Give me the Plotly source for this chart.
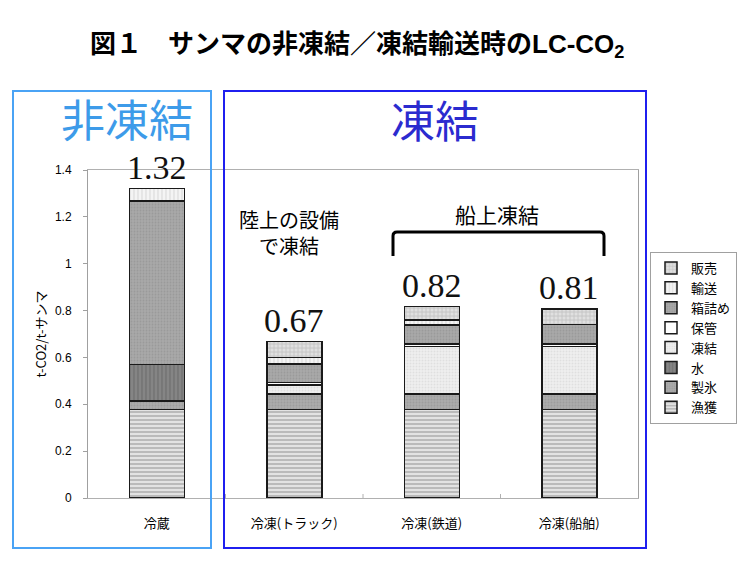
import plotly.graph_objects as go

# ---- data ----
categories = ["冷蔵", "冷凍(トラック)", "冷凍(鉄道)", "冷凍(船舶)"]
series_names = ["漁獲", "製氷", "水", "凍結", "保管", "箱詰め", "輸送", "販売"]
gyokaku   = [0.378, 0.378, 0.378, 0.378]
seihyo    = [0.035, 0.065, 0.065, 0.065]
mizu      = [0.157, 0.0, 0.0, 0.0]
toketsu   = [0.0, 0.039, 0.203, 0.203]
hokan     = [0.0, 0.012, 0.011, 0.011]
hakozume  = [0.698, 0.079, 0.081, 0.084]
yuso      = [0.053, 0.027, 0.021, 0.0]
hanbai    = [0.0, 0.068, 0.059, 0.066]
series_values = [gyokaku, seihyo, mizu, toketsu, hokan, hakozume, yuso, hanbai]
y_ticks = [0, 0.2, 0.4, 0.6, 0.8, 1, 1.2, 1.4]

# ---- styles ----
styles = {
    "漁獲":  dict(bg="#e2e2e2", fg="#8a8a8a", shape="-", size=4, solidity=0.45),
    "製氷":  dict(bg="#ababab", fg="#8f8f8f", shape=".", size=3, solidity=0.3),
    "水":    dict(bg="#858585", fg="#5e5e5e", shape="|", size=4, solidity=0.35),
    "凍結":  dict(bg="#eeeeee", fg="#d0d0d0", shape=".", size=3, solidity=0.3),
    "保管":  dict(bg="#ffffff", fg="#ffffff", shape="", size=4, solidity=0.3),
    "箱詰め": dict(bg="#a8a8a8", fg="#8c8c8c", shape=".", size=3, solidity=0.3),
    "輸送":  dict(bg="#f4f4f4", fg="#c4c4c4", shape="|", size=4, solidity=0.3),
    "販売":  dict(bg="#e0e0e0", fg="#a0a0a0", shape="+", size=4, solidity=0.35),
}

L, R, T, B = 88, 112, 170, 70
W, H = 750, 568
PW, PH = W - L - R, H - T - B

def px(x):
    return (x - L) / PW

def py(y):
    return (H - B - y) / PH

fig = go.Figure()
for name, vals in zip(series_names, series_values):
    s = styles[name]
    fig.add_trace(go.Bar(
        name=name, x=categories, y=vals, width=0.4,
        marker=dict(
            color=s["bg"],
            line=dict(color="#1a1a1a", width=1.5),
            pattern=dict(shape=s["shape"], bgcolor=s["bg"], fgcolor=s["fg"],
                         size=s["size"], solidity=s["solidity"]),
        ),
    ))

totals = [sum(v[i] for v in series_values) for i in range(len(categories))]

annotations = []
for c, t in zip(categories, totals):
    annotations.append(dict(
        x=c, y=t, xref="x", yref="y", text=f"{t:.2f}", showarrow=False,
        xanchor="center", yanchor="middle", yshift=21,
        font=dict(family="Liberation Serif", size=34, color="#111111"),
    ))

cjk = "Noto Sans CJK JP"

def label(x, y, text, size, color="#000000", family=cjk):
    return dict(x=px(x), y=py(y), xref="paper", yref="paper", showarrow=False,
                xanchor="center", yanchor="middle", text=text,
                font=dict(family=family, size=size, color=color))

annotations += [
    label(357, 45, "<b>図１　サンマの非凍結／凍結輸送時のLC-CO<sub>2</sub></b>", 26,
          family="Liberation Sans, Noto Sans CJK JP"),
    label(127, 118, "非凍結", 44, "#3d9be9"),
    label(435, 119, "凍結", 44, "#2b2bcf"),
    label(289, 232, "陸上の設備<br>で凍結", 20),
    label(497, 214, "船上凍結", 21),
]

shapes = [
    dict(type="rect", xref="paper", yref="paper", x0=px(13), x1=px(211),
         y0=py(548), y1=py(91), line=dict(color="#4aa3f5", width=2)),
    dict(type="rect", xref="paper", yref="paper", x0=px(224), x1=px(646),
         y0=py(548), y1=py(91), line=dict(color="#1f1fef", width=2)),
]
# bracket
x1, x2, yt, yb, r = px(393), px(604), py(232), py(256), 4
rx, ry = r / PW, r / PH
path = (f"M {x1},{yb} L {x1},{yt - ry} Q {x1},{yt} {x1 + rx},{yt} "
        f"L {x2 - rx},{yt} Q {x2},{yt} {x2},{yt - ry} L {x2},{yb}")
shapes.append(dict(type="path", xref="paper", yref="paper", path=path,
                   line=dict(color="#000000", width=3)))
# category separator ticks
for xs in [0.5, 1.5, 2.5]:
    shapes.append(dict(type="line", xref="x", yref="paper", x0=xs, x1=xs,
                       y0=0, y1=4 / PH, line=dict(color="#b0b0b0", width=1)))

fig.update_layout(
    width=W, height=H,
    margin=dict(l=L, r=R, t=T, b=B, pad=0, autoexpand=False),
    barmode="stack",
    paper_bgcolor="white", plot_bgcolor="white",
    font=dict(family="Liberation Sans, Noto Sans CJK JP", size=12, color="#000000"),
    showlegend=True,
    legend=dict(x=px(650), y=py(252), xanchor="left", yanchor="top",
                traceorder="reversed", bordercolor="#a0a0a0", borderwidth=1,
                bgcolor="white", font=dict(size=13, family=cjk),
                itemwidth=30, tracegroupgap=0),
    annotations=annotations,
    shapes=shapes,
    bargap=0.6,
)
fig.update_xaxes(
    showline=True, linecolor="#b0b0b0", linewidth=1, mirror=True,
    ticks="", showgrid=False, ticklabelstandoff=13,
    tickfont=dict(size=13, family=cjk),
)
fig.update_yaxes(
    range=[0, 1.4], tickvals=y_ticks, ticktext=[f"{v:g}" for v in y_ticks],
    showline=True, linecolor="#a0a0a0", linewidth=1, mirror=True,
    ticks="outside", ticklen=4, tickcolor="#a0a0a0", showgrid=False,
    zeroline=False, ticklabelstandoff=9,
    tickfont=dict(size=12),
    title=dict(text="t-CO2/t-サンマ", font=dict(size=13, family=cjk), standoff=5),
)

fig.write_html("out.html", config={"displayModeBar": False},
               post_script="document.body.style.margin='0';")
